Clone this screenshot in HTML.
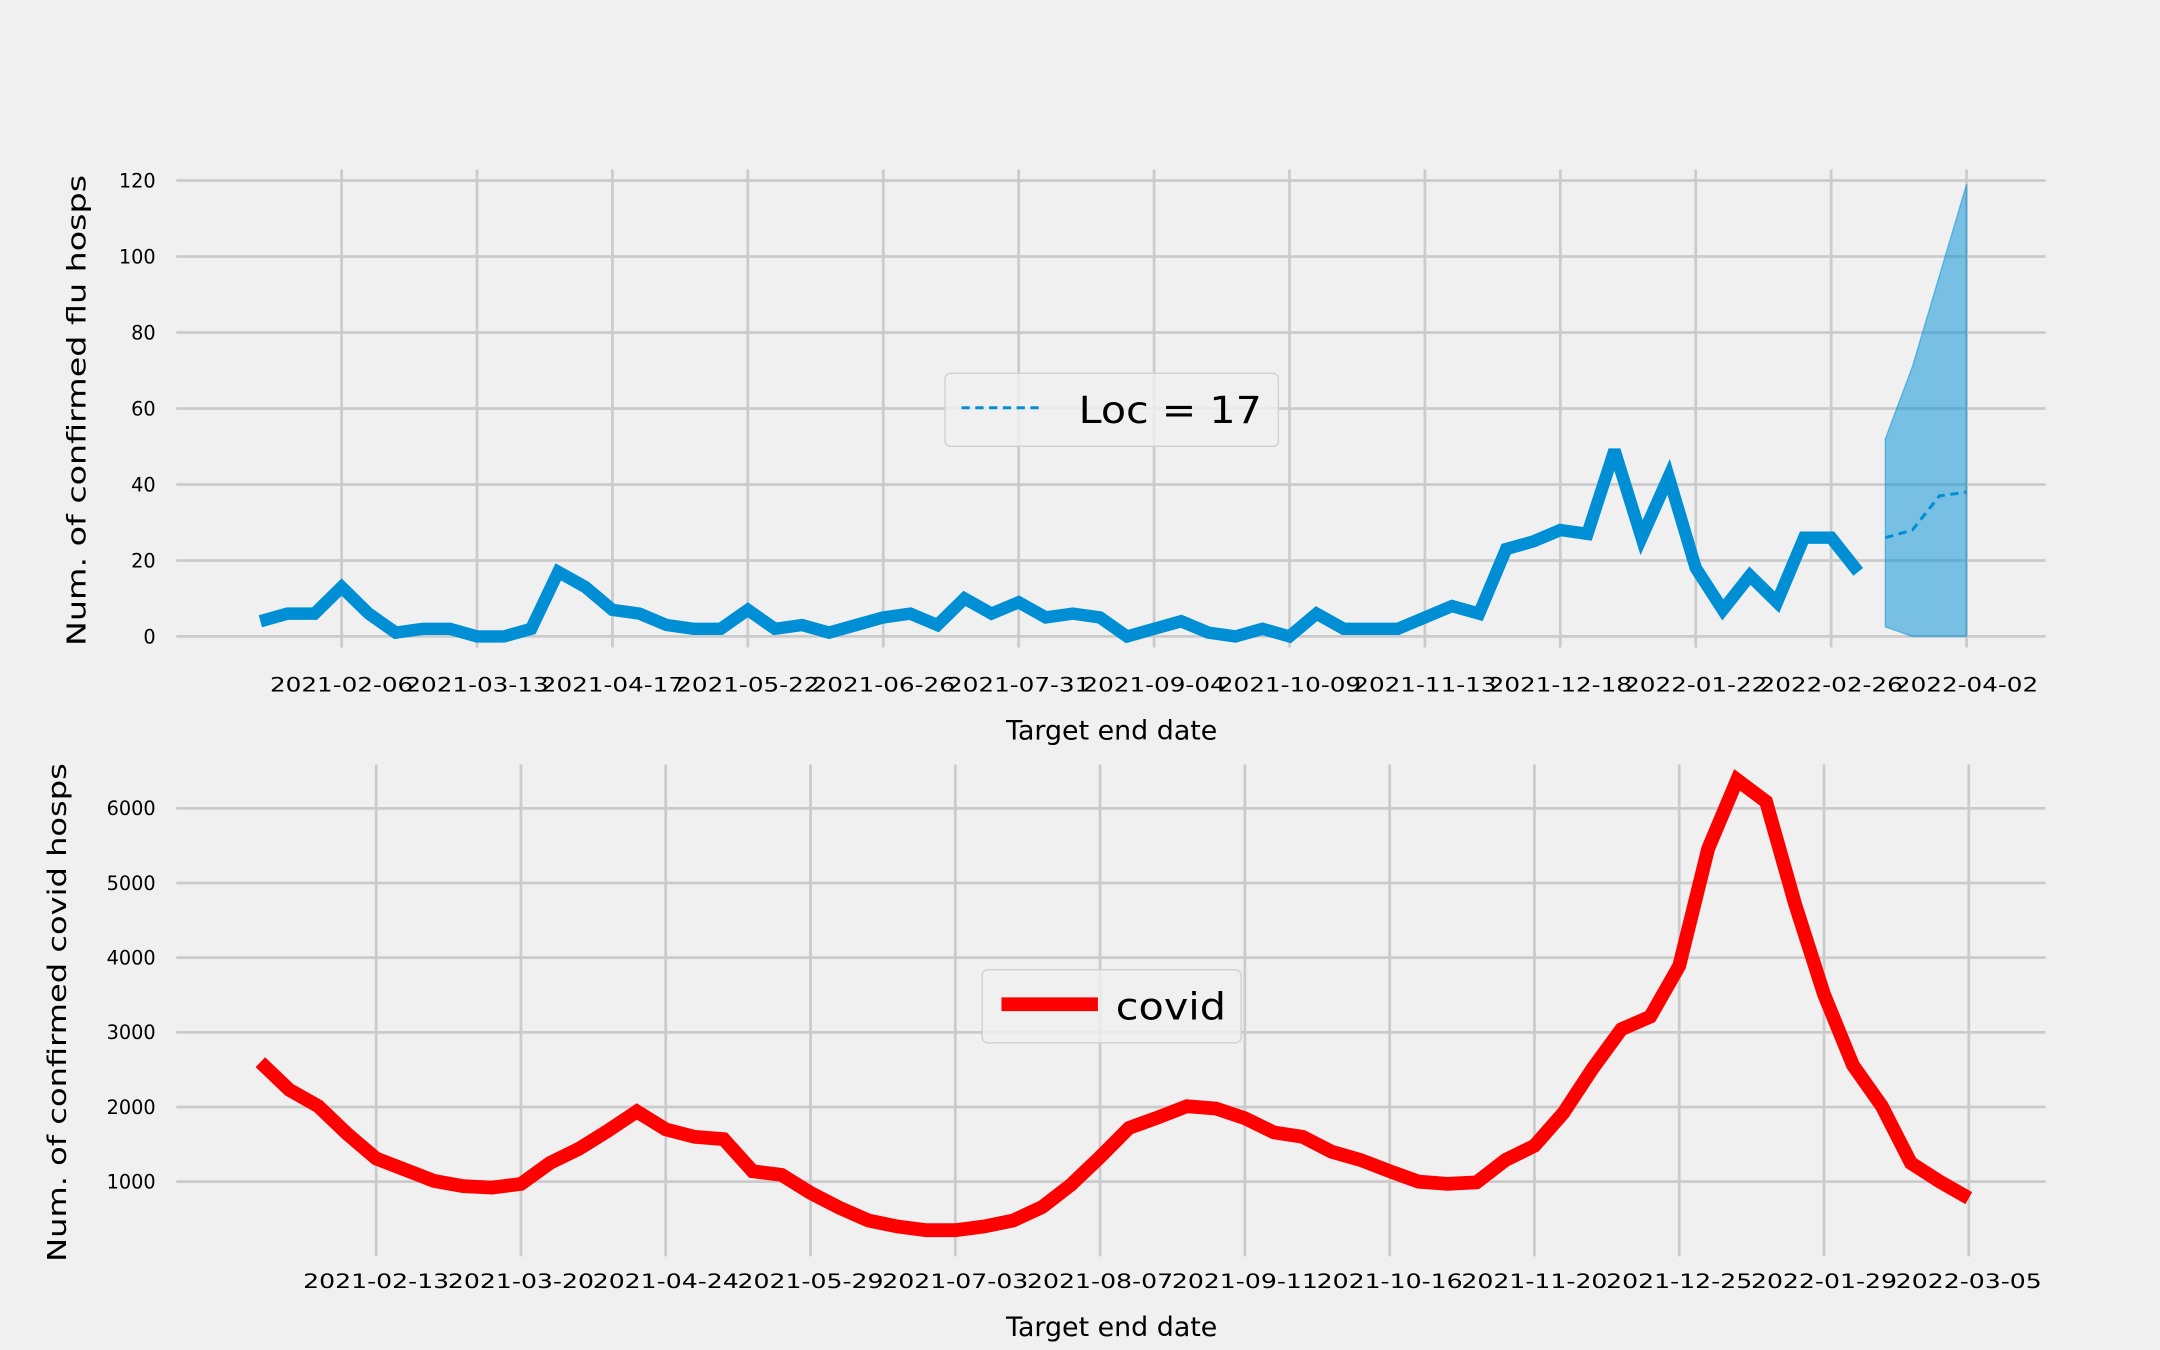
<!DOCTYPE html>
<html><head><meta charset="utf-8"><style>
html,body{margin:0;padding:0;background:#f0f0f0;}
svg{display:block;}
text{font-family:"DejaVu Sans","Liberation Sans",sans-serif;fill:#000;}
</style></head><body>
<svg id="chart" width="2160" height="1350" viewBox="0 0 1568 980" xmlns="http://www.w3.org/2000/svg">
<rect x="0" y="0" width="1568" height="980" fill="#f0f0f0"/>
<g id="topPanel"></g>
<g id="botPanel"></g>
</svg>
<script>
const fluValues = [4,6,6,13,6,1,2,2,0,0,2,17,13,7,6,3,2,2,7,2,3,1,3,5,6,3,10,6,9,5,6,5,0,2,4,1,0,2,0,6,2,2,2,5,8,6,23,25,28,27,49,26,42,18,7,16,9,26,26,17];
const fcMedian = [26,28,37,38];
const fcUpper = [52,71,95,119];
const fcLower = [2.5,0,0,0];
const covidValues = [2600,2230,2010,1640,1310,1160,1010,940,920,970,1250,1440,1680,1940,1700,1600,1570,1140,1090,850,650,480,400,350,350,400,480,660,960,1330,1720,1860,2010,1980,1850,1660,1600,1400,1290,1140,1000,970,990,1290,1480,1920,2510,3040,3210,3890,5460,6380,6090,4720,3510,2560,2010,1250,1000,780];
const fluYTicks = [0,20,40,60,80,100,120];
const covidYTicks = [1000,2000,3000,4000,5000,6000];
const fluXTickLabels = ["2021-02-06","2021-03-13","2021-04-17","2021-05-22","2021-06-26","2021-07-31","2021-09-04","2021-10-09","2021-11-13","2021-12-18","2022-01-22","2022-02-26","2022-04-02"];
const fluXTickWeeks = [3,8,13,18,23,28,33,38,43,48,53,58,63];
const covidXTickLabels = ["2021-02-13","2021-03-20","2021-04-24","2021-05-29","2021-07-03","2021-08-07","2021-09-11","2021-10-16","2021-11-20","2021-12-25","2022-01-29","2022-03-05"];
const covidXTickWeeks = [4,9,14,19,24,29,34,39,44,49,54,59];

const NS="http://www.w3.org/2000/svg";
function mk(parent,tag,attrs,txt){const e=document.createElementNS(NS,tag);for(const k in attrs)e.setAttribute(k,attrs[k]);if(txt!==undefined)e.textContent=txt;parent.appendChild(e);return e;}

const fx=i=>189+19.66*i;
const fy=v=>462-2.758*v;
const cx=i=>189+21.02*i;
const cy=v=>912-0.0542*v;

function panel(g,xf,yf,yTicks,xWeeks,xLabels,gridTop,gridBot,labOff,labLen,ylabel,ylx,yly,ylLen,xlabY){
  yTicks.forEach(t=>{
    const l=mk(g,'line',{x1:128,x2:1485,y1:yf(t),y2:yf(t),stroke:'#cbcbcb','stroke-width':2});
    
    
    const tx=mk(g,'text',{x:113,y:yf(t)+5,'text-anchor':'end','font-size':14},String(t));
    
    
  });
  xWeeks.forEach((w,k)=>{
    const l=mk(g,'line',{x1:xf(w),x2:xf(w),y1:gridTop,y2:gridBot,stroke:'#cbcbcb','stroke-width':2});
    
    
    const tx=mk(g,'text',{x:xf(w),y:gridBot+labOff,'text-anchor':'middle','font-size':14,textLength:labLen,lengthAdjust:'spacingAndGlyphs'},xLabels[k]);
    
    
  });
  const xl=mk(g,'text',{x:807,y:xlabY,'text-anchor':'middle','font-size':19.5},'Target end date');
  
  
  const yl=mk(g,'text',{x:0,y:0,'text-anchor':'middle','font-size':19,textLength:ylLen,lengthAdjust:'spacingAndGlyphs',transform:'translate('+ylx+','+yly+') rotate(-90)'},ylabel);
  
  
}

const topG=document.getElementById('topPanel');
panel(topG,fx,fy,fluYTicks,fluXTickWeeks,fluXTickLabels,123,470,32,104,'Num. of confirmed flu hosps',62,298,342,537);

const nObs=fluValues.length;
const bandPts=[];
fcUpper.forEach((v,i)=>bandPts.push(fx(nObs+i)+','+fy(v)));
for(let i=fcLower.length-1;i>=0;i--)bandPts.push(fx(nObs+i)+','+fy(fcLower[i]));
const band=mk(topG,'polygon',{points:bandPts.join(' '),fill:'#008fd5','fill-opacity':0.5,stroke:'#008fd5','stroke-opacity':0.5,'stroke-width':1});


const med=mk(topG,'polyline',{points:fcMedian.map((v,i)=>fx(nObs+i)+','+fy(v)).join(' '),fill:'none',stroke:'#008fd5','stroke-width':2.2,'stroke-dasharray':'6,4'});


const flu=mk(topG,'polyline',{points:fluValues.map((v,i)=>fx(i)+','+fy(v)).join(' '),fill:'none',stroke:'#008fd5','stroke-width':9,'stroke-linejoin':'miter','stroke-miterlimit':3});



const lg=mk(topG,'g',{});


mk(lg,'rect',{x:686,y:271,width:242,height:53,rx:4,fill:'#f0f0f0','fill-opacity':0.8,stroke:'#d0d0d0','stroke-width':1});
const le=mk(lg,'line',{x1:698,x2:758,y1:296,y2:296,stroke:'#008fd5','stroke-width':2.2,'stroke-dasharray':'6,4'});


const lt=mk(lg,'text',{x:783,y:307,'font-size':27,textLength:133,lengthAdjust:'spacingAndGlyphs'},'Loc = 17');



const botG=document.getElementById('botPanel');
panel(botG,cx,cy,covidYTicks,covidXTickWeeks,covidXTickLabels,555,912,23,106,'Num. of confirmed covid hosps',48,735,362,970);
const cov=mk(botG,'polyline',{points:covidValues.map((v,i)=>cx(i)+','+cy(v)).join(' '),fill:'none',stroke:'#ff0000','stroke-width':10,'stroke-linejoin':'miter','stroke-miterlimit':3});


const lg2=mk(botG,'g',{});


mk(lg2,'rect',{x:713,y:704,width:188,height:53,rx:4,fill:'#f0f0f0','fill-opacity':0.8,stroke:'#d0d0d0','stroke-width':1});
const le2=mk(lg2,'line',{x1:727,x2:797,y1:729,y2:729,stroke:'#ff0000','stroke-width':10});


const lt2=mk(lg2,'text',{x:810,y:740,'font-size':27,textLength:80,lengthAdjust:'spacingAndGlyphs'},'covid');


</script>
</body></html>
